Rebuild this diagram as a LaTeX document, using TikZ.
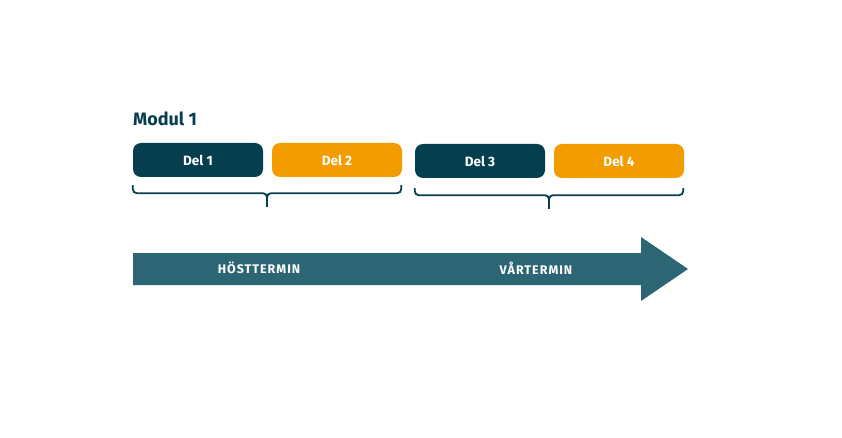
\documentclass[tikz,border=0pt]{standalone}
\usepackage{fontspec}
\setmainfont{Fira Sans}
\definecolor{dteal}{HTML}{053F4F}
\definecolor{orng}{HTML}{F39C00}
\definecolor{ateal}{HTML}{2C6674}
\begin{document}
\begin{tikzpicture}[x=1pt,y=-1pt,
  delbox/.style={rounded corners=8pt, minimum width=130pt, minimum height=34pt, inner sep=0pt, text=white, font=\fontsize{13.5}{15}\selectfont\bfseries},
  dark/.style={delbox, fill=dteal},
  orange/.style={delbox, fill=orng},
  bracel/.style={draw=dteal, line width=1.8pt, rounded corners=4pt},
  term/.style={text=white, font=\fontsize{12.5}{14}\selectfont\bfseries\addfontfeature{LetterSpace=8}}
]
\useasboundingbox[fill=white] (0,0) rectangle (842,438);
\node[anchor=base west, text=dteal, font=\fontsize{18}{21}\selectfont\bfseries, inner sep=0pt] (modul) at (133,126) {Modul 1};
\node[dark] (d1) at (198,160) {Del 1};
\node[orange] (d2) at (337,160) {Del 2};
\node[dark] (d3) at (480,161) {Del 3};
\node[orange] (d4) at (619,161) {Del 4};
\coordinate (b1) at (267,207);
\coordinate (b2) at (549,209);
\draw[bracel] (d1.south west) ++(0,8) -- ++(0,8) -| (b1);
\draw[bracel] (d2.south east) ++(-1,8) -- ++(0,8) -| (b1);
\draw[bracel] (d3.south west) ++(0,10) -- ++(0,7) -| (b2);
\draw[bracel] (d4.south east) ++(-1,10) -- ++(0,7) -| (b2);
\fill[ateal] (133,253) -- (641,253) -- (641,237) -- (688,269) -- (641,301) -- (641,285) -- (133,285) -- cycle;
\node[term] (ht) at (259,268) {HÖSTTERMIN};
\node[term] (vt) at (536,268) {VÅRTERMIN};
\end{tikzpicture}
\end{document}
